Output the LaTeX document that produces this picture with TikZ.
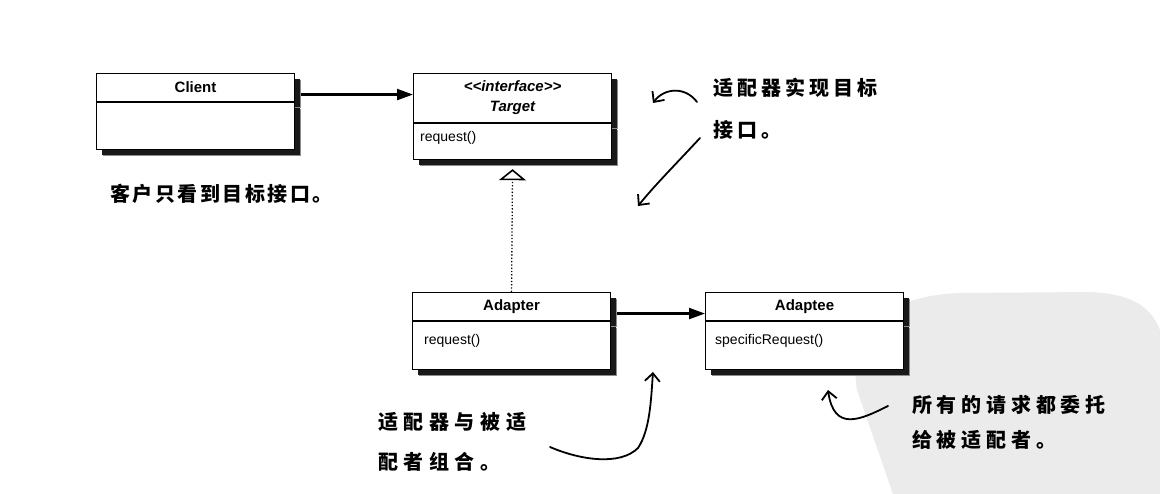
\documentclass[tikz,border=0pt]{standalone}
\usepackage{fontspec}
\setmainfont{Liberation Sans}
\newfontfamily\cjk{Noto Sans CJK SC}
\usetikzlibrary{arrows.meta,shadows}
\begin{document}
\begin{tikzpicture}[x=1pt,y=-1pt,
  classbox/.style={draw=black, line width=1.1pt, fill=white, minimum width=198pt, inner sep=0pt,
     general shadow={fill=black!45, shadow xshift=6.5pt, shadow yshift=-6.5pt},
     general shadow={fill=black!90, shadow xshift=5pt, shadow yshift=-5pt}},
  headtxt/.style={font=\fontsize{15}{20}\selectfont\bfseries},
  optxt/.style={font=\fontsize{14}{16}\selectfont, anchor=west, inner sep=0pt},
  umlarrow/.style={line width=2.2pt, -{Triangle[length=16pt,width=11pt]}},
  note/.style={anchor=west, inner sep=0pt, align=left},
  hand/.style={line width=1.8pt, line cap=round, -{Straight Barb[length=8pt,width=15pt,line width=1.8pt]}}]
\useasboundingbox (0,0) rectangle (1160,494);
\fill[white] (0,0) rectangle (1160,494);
% watermark background
\fill[black!8] (893,494) -- (857,390) .. controls (848,335) and (880,296) .. (960,293)
  -- (1090,292) .. controls (1130,294) and (1150,305) .. (1160,330) -- (1160,494) -- cycle;

% Client
\node[classbox, headtxt, minimum height=28pt, anchor=north west] (clienth) at (96,73) {Client};
\node[classbox, minimum height=47pt, anchor=north] (clientb) at (clienth.south) {};
% Target
\node[classbox, headtxt, align=center, minimum height=49pt, anchor=north west] (targeth) at (413,73)
  {\itshape <\kern0pt<interface>\kern0pt>\\\itshape Target};
\node[classbox, minimum height=36pt, anchor=north] (targetb) at (targeth.south) {};
\node[optxt] (targetop) at ([xshift=7pt,yshift=-15pt]targetb.north west) {request()};
% Adapter
\node[classbox, headtxt, minimum height=28pt, anchor=north west] (adapterh) at (412,292) {Adapter};
\node[classbox, minimum height=48pt, anchor=north] (adapterb) at (adapterh.south) {};
\node[optxt] (adapterop) at ([xshift=12pt,yshift=-20pt]adapterb.north west) {request()};
% Adaptee
\node[classbox, headtxt, minimum height=28pt, anchor=north west] (adapteeh) at (705,292) {Adaptee};
\node[classbox, minimum height=48pt, anchor=north] (adapteeb) at (adapteeh.south) {};
\node[optxt] (adapteeop) at ([xshift=10pt,yshift=-20pt]adapteeb.north west) {specificRequest()};

% connectors
\draw[umlarrow] ([yshift=-7pt,xshift=6pt]clienth.east) -- ([yshift=-7pt]clienth.east -| targeth.west);
\draw[umlarrow] ([yshift=-7pt,xshift=6pt]adapterh.east) -- ([yshift=-7pt]adapterh.east -| adapteeh.west);
\draw[line width=1.3pt, dash pattern=on 1.3pt off 2pt,
  -{Triangle[open, length=11pt, width=27pt, line width=1.6pt, fill=white]}]
  (adapterh.north) -- ([yshift=-9pt]targetb.south);

% notes
\node[note, font={\cjk\addfontfeature{LetterSpace=12.5}\fontsize{20}{20}\selectfont\bfseries}] (n1) at (110,194) {客户只看到目标接口。};
\node[note, font={\cjk\addfontfeature{LetterSpace=20}\fontsize{20}{42}\selectfont\bfseries}] (n2) at (713,109) {适配器实现目标\\接口。};
\node[note, font={\cjk\addfontfeature{LetterSpace=28}\fontsize{20}{40}\selectfont\bfseries}] (n3) at (378,442) {适配器与被适\\配者组合。};
\node[note, font={\cjk\addfontfeature{LetterSpace=24}\fontsize{20}{35}\selectfont\bfseries}] (n4) at (912,422) {所有的请求都委托\\给被适配者。};

% hand-drawn arrows
\coordinate (a1s) at (697,102); \coordinate (a1e) at (653,103);
\draw[hand] (a1s) .. controls (685,86) and (664,88) .. (a1e);
\coordinate (a2s) at (700,138); \coordinate (a2e) at (638,206);
\draw[hand] (a2s) .. controls (675,165) and (655,185) .. (a2e);
\coordinate (a3s) at (550,447); \coordinate (a3m) at (638,448); \coordinate (a3e) at (653,372);
\draw[hand] (a3s) .. controls (580,460) and (620,466) .. (a3m) .. controls (650,430) and (651,400) .. (a3e);
\coordinate (a4s) at (888,406); \coordinate (a4e) at (828,390);
\draw[hand] (a4s) .. controls (860,420) and (834,432) .. (a4e);
\end{tikzpicture}
\end{document}
